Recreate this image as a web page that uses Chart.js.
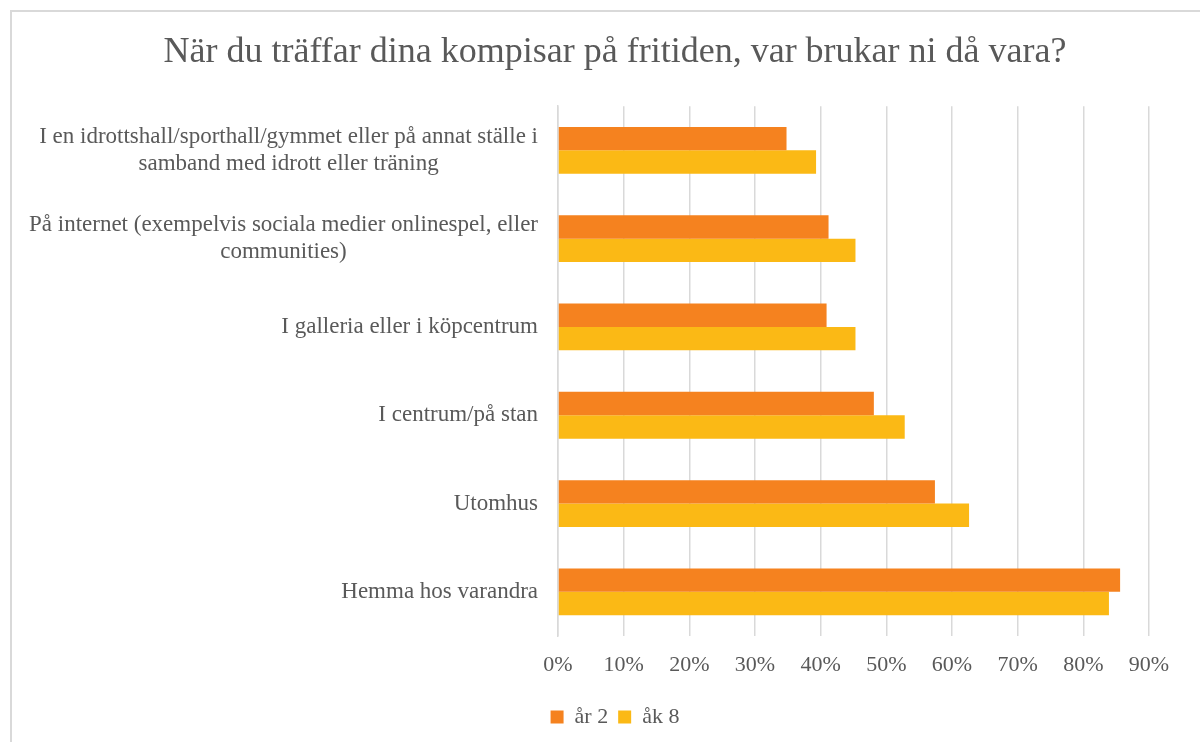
<!DOCTYPE html>
<html>
<head>
<meta charset="utf-8">
<script src="https://cdn.jsdelivr.net/npm/chart.js@4/dist/chart.umd.min.js"></script>
<style>
  html, body { margin: 0; padding: 0; background: #fff; }
  body { width: 1200px; height: 742px; position: relative; overflow: hidden; }
  #frame { position: absolute; left: 10px; top: 10px; width: 1200px; height: 800px; border: 2px solid #d9d9d9; box-sizing: border-box; }
  #wrap { position: absolute; left: 0; top: 0; width: 1200px; height: 742px; }
</style>
</head>
<body>
<div id="frame"></div>
<div id="wrap"><canvas id="chart" width="1200" height="742"></canvas></div>
<script>
const categories = [
  ["I en idrottshall/sporthall/gymmet eller på annat ställe i", "samband med idrott eller träning"],
  ["På internet (exempelvis sociala medier onlinespel, eller", "communities)"],
  ["I galleria eller i köpcentrum"],
  ["I centrum/på stan"],
  ["Utomhus"],
  ["Hemma hos varandra"]
];
const seriesNames = ["år 2", "åk 8"];
const ar2 = [34.8, 41.2, 40.9, 48.1, 57.4, 85.6];
const ak8 = [39.3, 45.3, 45.3, 52.8, 62.6, 83.9];
const xTicks = [0, 10, 20, 30, 40, 50, 60, 70, 80, 90];

const FONT = "'Liberation Serif', 'DejaVu Serif', serif";
const TEXT = "#595959";

// y labels: block right-aligned, lines centered inside the block (like Excel)
const yLabelPlugin = {
  id: "yLabels",
  afterDraw(chart) {
    const ctx = chart.ctx;
    const y = chart.scales.y;
    const right = chart.chartArea.left - 20;
    const lh = 27;
    ctx.save();
    ctx.font = "23px " + FONT;
    ctx.fillStyle = TEXT;
    ctx.textAlign = "center";
    ctx.textBaseline = "middle";
    categories.forEach((lines, i) => {
      const cy = y.getPixelForValue(i);
      const w = Math.max(...lines.map(l => ctx.measureText(l).width));
      const cx = right - w / 2;
      lines.forEach((l, j) => {
        ctx.fillText(l, cx, cy + (j - (lines.length - 1) / 2) * lh);
      });
    });
    ctx.restore();
  }
};

new Chart(document.getElementById("chart"), {
  type: "bar",
  data: {
    labels: categories,
    datasets: [
      { label: seriesNames[0], data: ar2, backgroundColor: "#f5821f" },
      { label: seriesNames[1], data: ak8, backgroundColor: "#fbb915" }
    ]
  },
  options: {
    indexAxis: "y",
    responsive: false,
    animation: false,
    layout: { padding: { left: 81, right: 51, top: 0, bottom: 4 } },
    datasets: { bar: { categoryPercentage: 0.53, barPercentage: 1 } },
    plugins: {
      title: {
        display: true,
        text: "När du träffar dina kompisar på fritiden, var brukar ni då vara?",
        color: TEXT,
        font: { family: FONT, size: 36, weight: "normal" },
        padding: { top: 31, bottom: 32 }
      },
      legend: {
        position: "bottom",
        labels: {
          color: TEXT,
          font: { family: FONT, size: 22 },
          boxWidth: 13,
          boxHeight: 13,
          padding: 10
        }
      },
      tooltip: { enabled: false }
    },
    scales: {
      x: {
        min: 0,
        max: 90,
        afterBuildTicks: s => { s.ticks = xTicks.map(v => ({ value: v })); },
        afterFit: s => { s.height = 60; },
        grid: { color: "#d9d9d9", lineWidth: 1.5, drawTicks: false },
        border: { display: false },
        ticks: {
          color: TEXT,
          font: { family: FONT, size: 22 },
          padding: 16,
          callback: v => v + "%"
        }
      },
      y: {
        afterFit: s => { s.width = 477; },
        grid: { display: false },
        border: { display: true, color: "#d9d9d9", width: 1.5 },
        ticks: { display: false }
      }
    }
  },
  plugins: [yLabelPlugin]
});
</script>
</body>
</html>
